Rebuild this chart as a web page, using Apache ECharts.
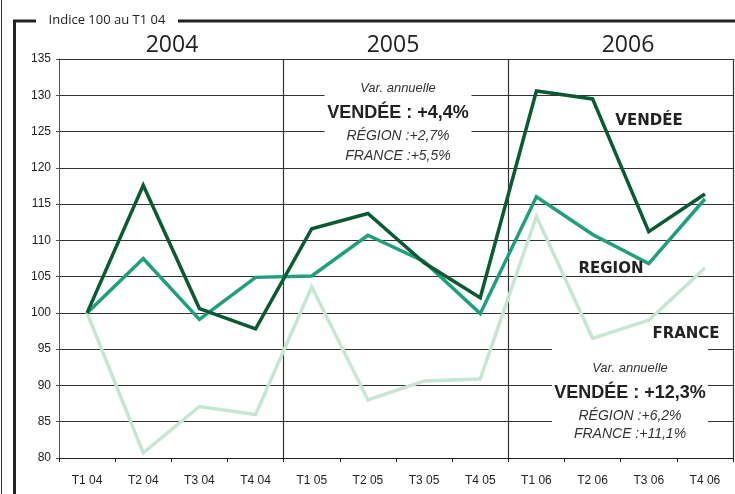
<!DOCTYPE html>
<html>
<head>
<meta charset="utf-8">
<script src="https://cdn.jsdelivr.net/npm/echarts@6/dist/echarts.min.js"></script>
<style>
html,body{margin:0;padding:0;background:#fff;}
#chart{width:735px;height:494px;}
</style>
</head>
<body>
<div id="chart"></div>
<script>
// trimestres
var categories = ['T1 04','T2 04','T3 04','T4 04','T1 05','T2 05','T3 05','T4 05','T1 06','T2 06','T3 06','T4 06'];
var years = ['2004','2005','2006'];
// indice 100 au T1 04
var vendee = [100, 117.6, 100.6, 97.8, 111.6, 113.7, 106.9, 102.1, 130.6, 129.5, 111.2, 116.4];
var region = [100, 107.5, 99.1, 104.9, 105.1, 110.7, 107.1, 99.9, 116.0, 110.8, 106.8, 115.7];
var france = [100, 80.7, 87.1, 86.0, 103.6, 88.0, 90.6, 90.9, 113.3, 96.5, 99.0, 106.2];
var yMin = 80, yMax = 135, yStep = 5;
var var2005 = ['Var. annuelle', 'VENDÉE : +4,4%', 'RÉGION :+2,7%', 'FRANCE :+5,5%'];
var var2006 = ['Var. annuelle', 'VENDÉE : +12,3%', 'RÉGION :+6,2%', 'FRANCE :+11,1%'];

var chart = echarts.init(document.getElementById('chart'), null, {renderer:'canvas'});

function txt(text, x, y, font, extra){
  var s = {text:text, x:x, y:y, font:font, fill:'#222',
    textAlign:'center', textVerticalAlign:'middle', align:'center', verticalAlign:'middle'};
  if(extra){ for(var k in extra) s[k]=extra[k]; }
  return {type:'text', z:10, style:s};
}

function varBox(lines, cx, top, w, h, ys){
  var els = [{type:'rect', z:5, shape:{x:cx-w/2, y:top, width:w, height:h}, style:{fill:'#fff'}}];
  els.push(txt(lines[0], cx, ys[0], 'italic 13px "Liberation Sans", Arial', {fill:'#333'}));
  els.push(txt(lines[1], cx, ys[1], 'bold 18px "Liberation Sans", Arial'));
  els.push(txt(lines[2], cx, ys[2], 'italic 14px "Liberation Sans", Arial', {fill:'#333'}));
  els.push(txt(lines[3], cx, ys[3], 'italic 14px "Liberation Sans", Arial', {fill:'#333'}));
  return els;
}

var graphics = [
  // cadre
  {type:'polyline', z:10, shape:{points:[[14.5,494],[14.5,21],[36,21]]}, style:{stroke:'#222', lineWidth:3, fill:null}},
  {type:'line', z:10, shape:{x1:178, y1:21, x2:735, y2:21}, style:{stroke:'#222', lineWidth:3}},
  {type:'line', z:10, shape:{x1:1.5, y1:0, x2:1.5, y2:494}, style:{stroke:'#333', lineWidth:1}},
  txt('Indice 100 au T1 04', 107, 20, '13px "Open Sans", "Noto Sans", sans-serif'),
  txt(years[0], 172, 45, '23px "Open Sans", "Noto Sans", sans-serif'),
  txt(years[1], 393, 45, '23px "Open Sans", "Noto Sans", sans-serif'),
  txt(years[2], 628, 45, '23px "Open Sans", "Noto Sans", sans-serif'),
  txt('VENDÉE', 649, 121, 'bold 15px "DejaVu Sans", sans-serif'),
  txt('REGION', 611, 269, 'bold 15px "DejaVu Sans", sans-serif'),
  txt('FRANCE', 686, 334, 'bold 15px "DejaVu Sans", sans-serif')
];
graphics = graphics.concat(varBox(var2005, 398, 63, 147, 100, [88, 113, 136, 156]));
graphics = graphics.concat(varBox(var2006, 630, 343, 156, 102, [368, 393, 416, 434]));

var option = {
  animation:false,
  backgroundColor:'#fff',
  grid:{left:59, right:2, top:59, bottom:36, containLabel:false},
  xAxis:{
    type:'category',
    data:categories,
    axisLine:{lineStyle:{color:'#222', width:1.2}},
    axisTick:{show:true, length:4, lineStyle:{color:'#222'}},
    axisLabel:{color:'#222', fontSize:12, fontFamily:'"Liberation Sans", Arial', margin:17},
    splitLine:{show:true, interval:function(i){ return i===4 || i===8; }, lineStyle:{color:'#333', width:1.2}}
  },
  yAxis:{
    type:'value',
    min:yMin, max:yMax, interval:yStep,
    axisLine:{show:true, lineStyle:{color:'#555', width:1}},
    axisTick:{show:true, length:3, lineStyle:{color:'#555'}},
    axisLabel:{color:'#222', fontSize:12, fontFamily:'"Liberation Sans", Arial', margin:8},
    splitLine:{show:true, lineStyle:{color:'#333', width:1.2}}
  },
  series:[
    {name:'FRANCE', type:'line', data:france, showSymbol:false, symbol:'none', z:3,
      lineStyle:{color:'#c6e6d3', width:3.5, join:'miter'}},
    {name:'REGION', type:'line', data:region, showSymbol:false, symbol:'none', z:4,
      lineStyle:{color:'#1f9f7d', width:3.5, join:'miter'}},
    {name:'VENDEE', type:'line', data:vendee, showSymbol:false, symbol:'none', z:5,
      lineStyle:{color:'#0b5a34', width:3.5, join:'miter'}}
  ],
  graphic:{elements:graphics}
};
chart.setOption(option);
</script>
</body>
</html>
